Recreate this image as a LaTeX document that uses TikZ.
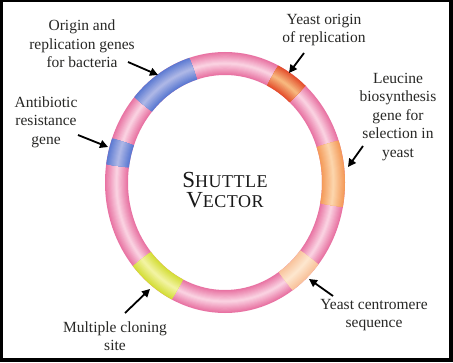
\documentclass[tikz,border=0pt]{standalone}
\usepackage{fontspec}
\setmainfont{Liberation Serif}
\usetikzlibrary{arrows.meta,calc}
\definecolor{txt}{RGB}{40,40,38}
\definecolor{pkD}{RGB}{232,115,163}
\definecolor{pkL}{RGB}{250,208,224}
\definecolor{blD}{RGB}{92,122,210}
\definecolor{blL}{RGB}{172,182,230}
\definecolor{orD}{RGB}{228,80,45}
\definecolor{orL}{RGB}{247,182,125}
\definecolor{leD}{RGB}{244,155,90}
\definecolor{leL}{RGB}{252,212,170}
\definecolor{ceD}{RGB}{249,195,155}
\definecolor{ceL}{RGB}{253,230,205}
\definecolor{yeD}{RGB}{212,222,55}
\definecolor{yeL}{RGB}{242,243,160}
\newcommand{\bandarc}[4]{%
  \foreach \i in {0,...,10}{%
    \pgfmathsetmacro{\w}{23-2.1*\i}\pgfmathsetmacro{\m}{100-10*\i}%
    \draw[line width=\w pt, color=#3!\m!#4] ($(C)+(#1:108.5 and 119)$) arc[start angle=#1, end angle=#2, x radius=108.5, y radius=119];}}
\begin{document}
\begin{tikzpicture}[x=1pt,y=1pt,
  lbl/.style={font=\fontsize{15.5}{18.5}\selectfont, text=txt, align=center, inner sep=0pt},
  pointer/.style={line width=1.8pt, -{Triangle[length=8pt,width=8pt]}}]
\fill[black] (0,0) rectangle (453,362);
\fill[white] (2.5,4) rectangle (449,359.5);
\useasboundingbox (0,0) rectangle (453,362);
\coordinate (C) at (225,179.5);
% ring
\foreach \i in {0,...,10}{%
  \pgfmathsetmacro{\w}{23-2.1*\i}\pgfmathsetmacro{\m}{100-10*\i}%
  \draw[line width=\w pt, color=pkD!\m!pkL] (C) ellipse[x radius=108.5, y radius=119];}
% segments
\bandarc{107}{139}{blD}{blL}
\bandarc{160}{172}{blD}{blL}
\bandarc{48}{64}{orD}{orL}
\bandarc{-11}{19}{leD}{leL}
\bandarc{-56}{-39}{ceD}{ceL}
\bandarc{220}{244}{yeD}{yeL}
% labels
\node[lbl] (bact) at (82,318) {Origin and\\replication genes\\for bacteria};
\node[lbl] (anti) at (46,240) {Antibiotic\\resistance\\gene};
\node[lbl] (yori) at (324,332) {Yeast origin\\of replication};
\node[lbl] (leu) at (398,245) {Leucine\\biosynthesis\\gene for\\selection in\\yeast};
\node[lbl] (cen) at (374,47) {Yeast centromere\\sequence};
\node[lbl] (mcs) at (115,26) {Multiple cloning\\site};
\node[text=black!90, align=center, inner sep=0pt, font=\fontsize{18}{20.5}\selectfont\addfontfeature{LetterSpace=3}] (title) at (225,172)
  {{\fontsize{23}{20.5}\selectfont S}HUTTLE\\{\fontsize{23}{20.5}\selectfont V}ECTOR};
% arrows
\coordinate (bacS) at (128,300); \coordinate (bacT) at (158,287);
\coordinate (antS) at (78,227);  \coordinate (antT) at (108,215);
\coordinate (yorS) at (304,309); \coordinate (yorT) at (289,289);
\coordinate (leuS) at (363,216); \coordinate (leuT) at (348,195);
\coordinate (cenS) at (333,66);  \coordinate (cenT) at (309,83);
\coordinate (mcsS) at (125,49);  \coordinate (mcsT) at (150,73);
\draw[pointer] (bacS) -- (bacT);
\draw[pointer] (antS) -- (antT);
\draw[pointer] (yorS) -- (yorT);
\draw[pointer] (leuS) -- (leuT);
\draw[pointer] (cenS) -- (cenT);
\draw[pointer] (mcsS) -- (mcsT);
\end{tikzpicture}
\end{document}
